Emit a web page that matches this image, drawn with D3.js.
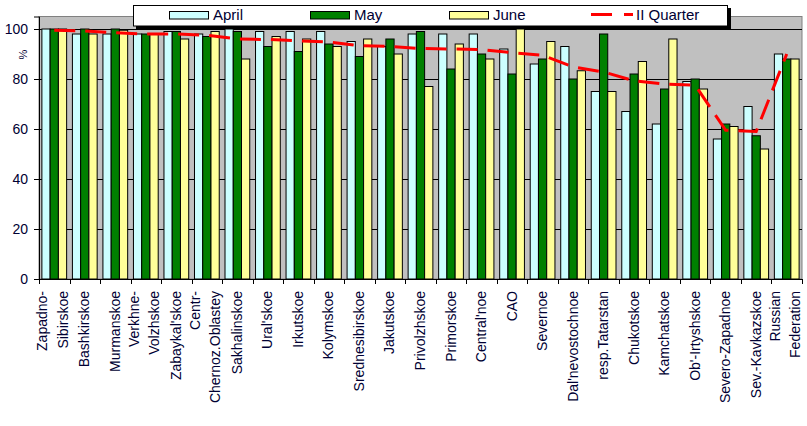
<!DOCTYPE html>
<html><head><meta charset="utf-8">
<script src="https://cdn.jsdelivr.net/npm/d3@7"></script>
<style>body{margin:0;background:#fff;}svg{display:block;}</style>
</head><body>
<script>
const categories = [
  ["Zapadno-","Sibirskoe"],["Bashkirskoe"],["Murmanskoe"],["Verkhne-","Volzhskoe"],["Zabaykal'skoe"],
  ["Centr-","Chernoz.Oblastey"],["Sakhalinskoe"],["Ural'skoe"],["Irkutskoe"],["Kolymskoe"],
  ["Srednesibirskoe"],["Jakutskoe"],["Privolzhskoe"],["Primorskoe"],["Central'noe"],
  ["CAO"],["Severnoe"],["Dal'nevostochnoe"],["resp.Tatarstan"],["Chukotskoe"],
  ["Kamchatskoe"],["Ob'-Irtyshskoe"],["Severo-Zapadnoe"],["Sev.-Kavkazskoe"],["Russian","Federation"]
];
const april = [100,98,98,98,99,98,100,99,99,99,95,93,98,98,98,92,86,93,75,67,62,79,56,69,90];
const may   = [100,100,100,98,99,97,99,93,91,94,89,96,99,84,90,82,88,80,98,82,76,80,62,57.3,88];
const june  = [100,98,99.5,98,96,99,88,97,96,93,96,90,77,94,88,100,95,83.3,75,87,96,76,61,52,88];
const quarter = [99.5,99.2,98.5,98,98,97.5,96,95.8,95.3,94.8,93.3,93,92.2,92,91.8,90.5,89.5,84.8,82.8,79.3,78,77.5,59.5,59,90];
const seriesNames = ["April","May","June"];
const lineName = "II Quarter";
const yTicks = [0,20,40,60,80,100];
const yMax = 105;
const yLabel = "%";

const W = 807, H = 426;
const colors = {April:"#CCFFFF", May:"#008000", June:"#FFFF99"};
const textColor = "#000033";
const plot = {left:39, right:802, top:16.5, bottom:279};

const svg = d3.select("body").append("svg").attr("width",W).attr("height",H)
  .style("font-family","Arial, 'Liberation Sans', sans-serif");

const keys = categories.map((c,i)=>i);
const gapFrac = 0.7/3.7;
const x = d3.scaleBand().domain(keys).range([plot.left, plot.right])
  .paddingInner(gapFrac).paddingOuter(gapFrac/2);
const xs = d3.scaleBand().domain(seriesNames).range([0, x.bandwidth()]);
const xc = i => x(i) + x.bandwidth()/2;
const y = d3.scaleLinear().domain([0,yMax]).range([plot.bottom, plot.top]);

// plot background
svg.append("rect").attr("x",plot.left).attr("y",plot.top)
  .attr("width",plot.right-plot.left).attr("height",plot.bottom-plot.top)
  .attr("fill","#C0C0C0").attr("stroke","#808080").attr("stroke-width",1);

// gridlines
svg.append("g").selectAll("line").data(yTicks.filter(t=>t>0)).join("line")
  .attr("x1",plot.left).attr("x2",plot.right)
  .attr("y1",d=>Math.round(y(d))+0.5).attr("y2",d=>Math.round(y(d))+0.5)
  .attr("stroke","#000").attr("stroke-width",1);

// bars
const data = [april, may, june];
seriesNames.forEach((s,si)=>{
  svg.append("g").selectAll("rect").data(data[si]).join("rect")
    .attr("x",(d,i)=>x(i)+xs(s))
    .attr("y",d=>y(d))
    .attr("width",xs.bandwidth())
    .attr("height",d=>y(0)-y(d))
    .attr("fill",colors[s]).attr("stroke","#000").attr("stroke-width",1);
});

// quarter line
const line = d3.line().x((d,i)=>xc(i)).y(d=>y(d));
svg.append("path").datum(quarter).attr("d",line)
  .attr("fill","none").attr("stroke","#FF0000").attr("stroke-width",3)
  .attr("stroke-dasharray","21,10");

// y axis
const yAxis = d3.axisLeft(y).tickValues(yTicks).tickSize(5).tickPadding(6).tickFormat(d3.format("d"));
const gy = svg.append("g").attr("transform",`translate(${plot.left},0)`).call(yAxis);
gy.select(".domain").attr("stroke","#000");
gy.selectAll(".tick line").attr("stroke","#000");
gy.selectAll("text").attr("font-size",14).attr("fill",textColor)
  .attr("font-family","Arial, 'Liberation Sans', sans-serif");

svg.append("text").attr("transform","translate(27,54.5) rotate(-90)")
  .attr("text-anchor","middle").attr("font-size",11).attr("fill",textColor).text(yLabel);

// x axis line and ticks at category boundaries
const step = x.step();
const bounds = d3.range(categories.length+1).map(i=>x(0) - x.step()*gapFrac/2 + i*step);
svg.append("line").attr("x1",plot.left).attr("x2",plot.right)
  .attr("y1",plot.bottom+0.5).attr("y2",plot.bottom+0.5).attr("stroke","#000");
svg.append("g").selectAll("line").data(bounds).join("line")
  .attr("x1",d=>Math.round(d)+0.5).attr("x2",d=>Math.round(d)+0.5)
  .attr("y1",plot.bottom).attr("y2",plot.bottom+5).attr("stroke","#000");

// x labels
const lab = svg.append("g").selectAll("text").data(categories).join("text")
  .attr("transform",(d,i)=>`translate(${xc(i)},291) rotate(-90)`)
  .attr("text-anchor","end").attr("font-size",14).attr("fill",textColor);
lab.each(function(d){
  const t = d3.select(this);
  const offs = d.length===1 ? [4.5] : [-7, 13.5];
  d.forEach((s,j)=>t.append("tspan").attr("x",0).attr("y",offs[j]).text(s));
});

// legend
const lg = svg.append("g");
lg.append("rect").attr("x",136).attr("y",8).attr("width",595).attr("height",21).attr("fill","#000");
lg.append("rect").attr("x",133.5).attr("y",5.5).attr("width",594).attr("height",20.5)
  .attr("fill","#fff").attr("stroke","#000").attr("stroke-width",1);
const legX = {April:169.5, May:310.5, June:449.5};
seriesNames.forEach(s=>{
  lg.append("rect").attr("x",legX[s]).attr("y",11.5).attr("width",39).attr("height",7.5)
    .attr("fill",colors[s]).attr("stroke","#000").attr("stroke-width",1);
  lg.append("text").attr("x",legX[s]+43.5).attr("y",20).attr("font-size",15)
    .attr("fill",textColor).text(s);
});
lg.append("line").attr("x1",591).attr("x2",633).attr("y1",14.5).attr("y2",14.5)
  .attr("stroke","#FF0000").attr("stroke-width",3).attr("stroke-dasharray","21,12");
lg.append("text").attr("x",636).attr("y",20).attr("font-size",15).attr("fill",textColor).text(lineName);
</script>
</body></html>
